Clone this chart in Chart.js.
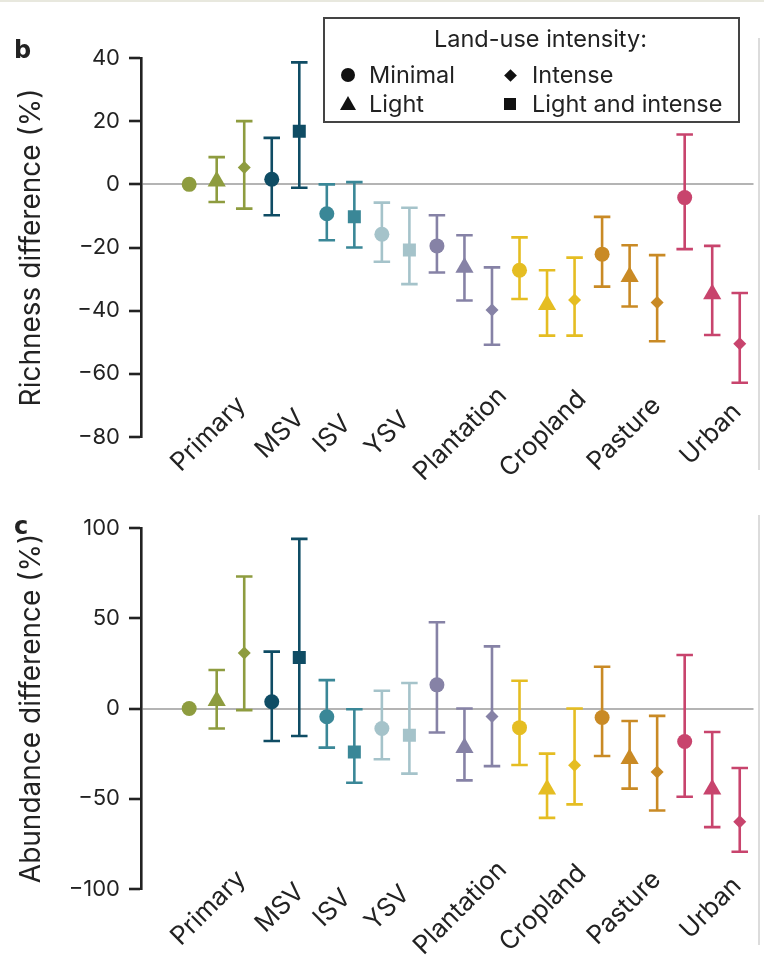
<!DOCTYPE html>
<html>
<head>
<meta charset="utf-8">
<script src="https://cdn.jsdelivr.net/npm/chart.js@4.4.0/dist/chart.umd.min.js"></script>
<style>
  html, body { margin: 0; padding: 0; background: #fff; }
  body { width: 764px; height: 959px; position: relative; overflow: hidden; font-family: Inter, 'DejaVu Sans', sans-serif; color: #222; }
  canvas { position: absolute; left: 0; }
  .panel-letter { position: absolute; left: 14px; font-family: 'DejaVu Sans', sans-serif; font-weight: bold; font-size: 24px; line-height: 1; }
  #legend { position: absolute; left: 323px; top: 17px; width: 417px; height: 106px; border: 2px solid #444; box-sizing: border-box; font-size: 23.5px; }
  #legend .ttl { position: absolute; left: 0; right: -18px; top: 5px; text-align: center; }
  #legend .item { position: absolute; white-space: nowrap; }
  #legend .mk { position: absolute; background: #111; }
  .edge { position: absolute; left: 758px; width: 2px; background: #dcdcdc; }
</style>
</head>
<body>
<div style="position:absolute;left:0;top:0;width:764px;height:2px;background:#e8e8de"></div>
<div class="edge" style="top:38px;height:432px"></div>
<div class="edge" style="top:515px;height:430px"></div>
<canvas id="richness" width="764" height="480" style="top:0"></canvas>
<canvas id="abundance" width="764" height="479" style="top:480px"></canvas>
<div class="panel-letter" style="top:38px">b</div>
<div class="panel-letter" style="top:514px">c</div>
<div id="legend">
  <div class="ttl">Land-use intensity:</div>
  <div class="mk" style="left:16px;top:49px;width:14px;height:14px;border-radius:50%"></div>
  <div class="item" style="left:44px;top:41px">Minimal</div>
  <div class="mk" style="left:15px;top:77px;width:0;height:0;background:none;border-left:8px solid transparent;border-right:8px solid transparent;border-bottom:14px solid #111"></div>
  <div class="item" style="left:44px;top:70px">Light</div>
  <div class="mk" style="left:181px;top:52px;width:9px;height:9px;transform:rotate(45deg)"></div>
  <div class="item" style="left:207px;top:41px">Intense</div>
  <div class="mk" style="left:179px;top:79px;width:12px;height:12px"></div>
  <div class="item" style="left:207px;top:70px">Light and intense</div>
</div>
<script>
// Land-use classes and their colours
const landUses = ['Primary', 'MSV', 'ISV', 'YSV', 'Plantation', 'Cropland', 'Pasture', 'Urban'];
const landUseColors = ['#8e9c3f', '#0f4c64', '#3a8797', '#a5c3ca', '#8682a6', '#e5bd22', '#c98a25', '#c8446d'];
// x position (in estimate units) of the centre of each rotated land-use label
const labelCenter = [0.7, 3.3, 5.2, 7.2, 9.85, 12.85, 15.8, 18.95];

// one entry per estimate (left to right)
const pointLandUse = [0, 0, 0, 1, 1, 2, 2, 3, 3, 4, 4, 4, 5, 5, 5, 6, 6, 6, 7, 7, 7];
const pointIntensity = ['Minimal', 'Light', 'Intense', 'Minimal', 'Light and intense',
    'Minimal', 'Light and intense', 'Minimal', 'Light and intense',
    'Minimal', 'Light', 'Intense', 'Minimal', 'Light', 'Intense',
    'Minimal', 'Light', 'Intense', 'Minimal', 'Light', 'Intense'];

// panel b: richness difference (%)
const richness     = [0, 1.0, 5.3, 1.6, 16.8, -9.3, -10.3, -15.8, -20.8, -19.5, -26.3, -39.8, -27.2, -38.1, -36.6, -22.1, -29.3, -37.4, -4.2, -34.7, -50.5];
const richnessLow  = [null, -5.6, -7.7, -9.8, -1.1, -17.7, -20.0, -24.5, -31.6, -27.9, -36.8, -50.8, -36.3, -47.9, -47.9, -32.4, -38.7, -49.7, -20.5, -47.7, -62.8];
const richnessHigh = [null, 8.6, 20.0, 14.7, 38.6, 0.0, 0.7, -5.8, -7.4, -9.8, -16.1, -26.3, -16.8, -27.2, -23.2, -10.3, -19.3, -22.4, 15.8, -19.5, -34.4];

// panel c: abundance difference (%)
const abundance     = [0, 4.3, 30.7, 3.7, 28.3, -4.6, -24.1, -11.1, -14.8, 13.1, -21.7, -4.4, -10.6, -44.8, -31.5, -5.0, -27.8, -35.2, -18.3, -44.8, -62.8];
const abundanceLow  = [null, -11.1, -0.9, -18.0, -15.2, -21.7, -41.1, -28.1, -36.1, -13.3, -39.8, -31.9, -31.3, -60.6, -53.1, -26.3, -44.4, -56.5, -48.9, -65.7, -79.4];
const abundanceHigh = [null, 21.3, 73.1, 31.5, 94.0, 15.7, -0.4, 9.8, 14.1, 47.8, 0.0, 34.4, 15.4, -25.0, 0.0, 23.1, -6.9, -4.1, 29.6, -13.0, -33.0];

const FONT = "Inter, 'DejaVu Sans', sans-serif";
const LABEL_SIZE = 25.5;
const shapeOf = { 'Minimal': 'circle', 'Light': 'triangle', 'Intense': 'rectRot', 'Light and intense': 'rect' };
const radiusOf = { 'Minimal': 7.5, 'Light': 10.5, 'Intense': 6.5, 'Light and intense': 9.2 };
const capHalf = 0.3;
const S45 = Math.SQRT1_2 / 2;

// widths of the rotated labels, so they can be centred like the original
const measureCtx = document.createElement('canvas').getContext('2d');
measureCtx.font = LABEL_SIZE + 'px ' + FONT;
const labelWidths = landUses.map(t => measureCtx.measureText(t).width);
const labelLine = LABEL_SIZE * 1.2;

// whiskers + caps for one land-use class, broken with null points
function errorBarPoints(group, lows, highs) {
    const pts = [];
    pointLandUse.forEach((g, i) => {
        if (g !== group || lows[i] === null) return;
        pts.push({ x: i, y: lows[i] }, { x: i, y: highs[i] }, { x: i, y: null });
        pts.push({ x: i - capHalf, y: highs[i] }, { x: i + capHalf, y: highs[i] }, { x: i, y: null });
        pts.push({ x: i - capHalf, y: lows[i] }, { x: i + capHalf, y: lows[i] }, { x: i, y: null });
    });
    return pts;
}

// one tiny axis per land-use label (each label needs its own offset)
function labelAxes(drop) {
    const axes = {};
    landUses.forEach((name, i) => {
        const w = labelWidths[i];
        axes['lab' + i] = {
            type: 'linear',
            axis: 'x',
            position: 'bottom',
            min: -1.75,
            max: 20.5,
            afterFit: s => {
                s.height = 0;
                s.paddingLeft = 0;
                s.paddingRight = 0;
            },
            afterBuildTicks: s => {
                let pxPerUnit = s.width / (s.max - s.min);
                if (!isFinite(pxPerUnit) || pxPerUnit <= 1) pxPerUnit = 28;
                const shift = (S45 * w + 2 * S45 * labelLine) / pxPerUnit;
                s.ticks = [{ value: labelCenter[i] + shift }];
            },
            grid: { display: false, drawTicks: false },
            border: { display: false },
            ticks: {
                mirror: true,
                autoSkip: false,
                minRotation: 45,
                maxRotation: 45,
                padding: -drop + S45 * (w - labelLine),
                color: '#222',
                font: { family: FONT, size: LABEL_SIZE },
                callback: () => name
            }
        };
    });
    return axes;
}

function createPanel(id, opts) {
    const datasets = [{
        data: opts.values.map((v, i) => ({ x: i, y: v })),
        pointStyle: pointIntensity.map(k => shapeOf[k]),
        pointRadius: pointIntensity.map(k => radiusOf[k]),
        pointBackgroundColor: pointLandUse.map(g => landUseColors[g]),
        pointBorderWidth: 0,
        showLine: false,
        order: 0
    }];
    landUses.forEach((name, g) => {
        datasets.push({
            data: errorBarPoints(g, opts.lows, opts.highs),
            showLine: true,
            spanGaps: false,
            borderColor: landUseColors[g],
            borderWidth: 2.6,
            pointRadius: 0,
            order: 1
        });
    });

    return new Chart(document.getElementById(id), {
        type: 'scatter',
        data: { datasets },
        options: {
            responsive: false,
            animation: false,
            devicePixelRatio: 1,
            layout: { padding: { top: opts.top, right: 0, bottom: opts.bottom, left: 0 } },
            plugins: { legend: { display: false }, tooltip: { enabled: false } },
            scales: Object.assign({
                x: { type: 'linear', min: -1.75, max: 20.5, display: false },
                y: {
                    min: opts.min,
                    max: opts.max,
                    afterFit: s => { s.width = 141; },
                    ticks: {
                        stepSize: opts.step,
                        padding: 9,
                        color: '#222',
                        font: { family: FONT, size: 22 },
                        callback: v => (v < 0 ? '\u2212' + Math.abs(v) : String(v))
                    },
                    grid: {
                        drawOnChartArea: true,
                        color: c => (c.tick && c.tick.value === 0 ? '#b4b4b4' : 'rgba(0,0,0,0)'),
                        lineWidth: 2,
                        tickColor: '#222',
                        tickLength: 12,
                        tickWidth: 2.6
                    },
                    border: { display: true, color: '#222', width: 2.6 },
                    title: {
                        display: true,
                        text: opts.title,
                        color: '#222',
                        padding: { top: 15, bottom: 0 },
                        font: { family: FONT, size: 28 }
                    }
                }
            }, labelAxes(opts.labelDrop))
        }
    });
}

createPanel('richness', {
    values: richness, lows: richnessLow, highs: richnessHigh,
    min: -80, max: 40, step: 20, title: 'Richness difference (%)',
    top: 58, bottom: 43, labelDrop: -3
});

createPanel('abundance', {
    values: abundance, lows: abundanceLow, highs: abundanceHigh,
    min: -100, max: 100, step: 50, title: 'Abundance difference (%)',
    top: 48, bottom: 70, labelDrop: 19
});
</script>
</body>
</html>
